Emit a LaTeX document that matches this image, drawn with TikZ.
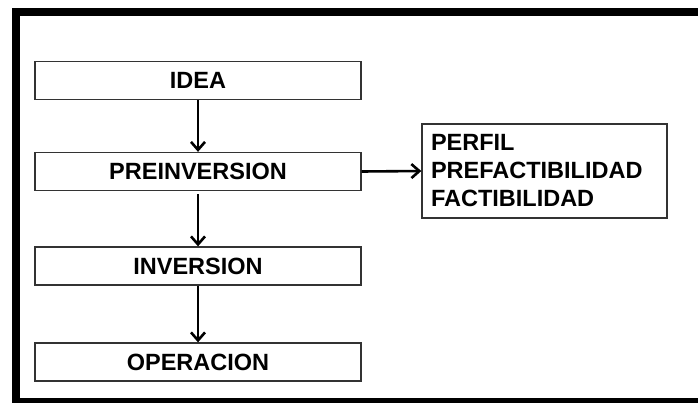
\documentclass[tikz,border=0pt]{standalone}
\usepackage{fontspec}
\setmainfont{Liberation Sans}
\usetikzlibrary{arrows.meta}

\begin{document}
\begin{tikzpicture}[x=1pt, y=-1pt,
		etapa/.style={draw=black!80, line width=1.3pt, minimum width=326pt, minimum height=38pt, inner sep=0pt, font=\fontsize{23.5}{26}\selectfont\bfseries},
		lista/.style={draw=black!80, line width=1.3pt, minimum width=245pt, minimum height=94pt, text width=227pt, align=left, inner xsep=9pt, font=\fontsize{23.5}{28}\selectfont\bfseries},
		flecha/.style={line width=2.6pt, -{Straight Barb[length=8pt, width=14pt, line width=2.6pt]}}]
			%%%%% START %%%%%
			
			\useasboundingbox (0, 0) rectangle (698, 402);
			\clip (0, 0) rectangle (698, 402);
			
			% marco
			\draw[line width=8pt] (16, 12) rectangle (712, 402);
			
			% etapas
			\node[etapa] (idea) at (198, 80.5) {IDEA};
			\node[etapa] (preinversion) at (198, 171.5) {PREINVERSION};
			\node[etapa] (inversion) at (198, 266) {INVERSION};
			\node[etapa] (operacion) at (198, 362) {OPERACION};
			
			\node[lista] (estudios) at (544.5, 171) {PERFIL\\PREFACTIBILIDAD\\FACTIBILIDAD};
			
			% flechas
			\draw[flecha] (idea) -- (preinversion);
			\draw[flecha, shorten <=3pt] (preinversion) -- (inversion);
			\draw[flecha] (inversion) -- (operacion);
			\draw[flecha] (preinversion.east) -- (estudios.west);
			
			%%%%% END %%%%%
		\end{tikzpicture}
\end{document}
